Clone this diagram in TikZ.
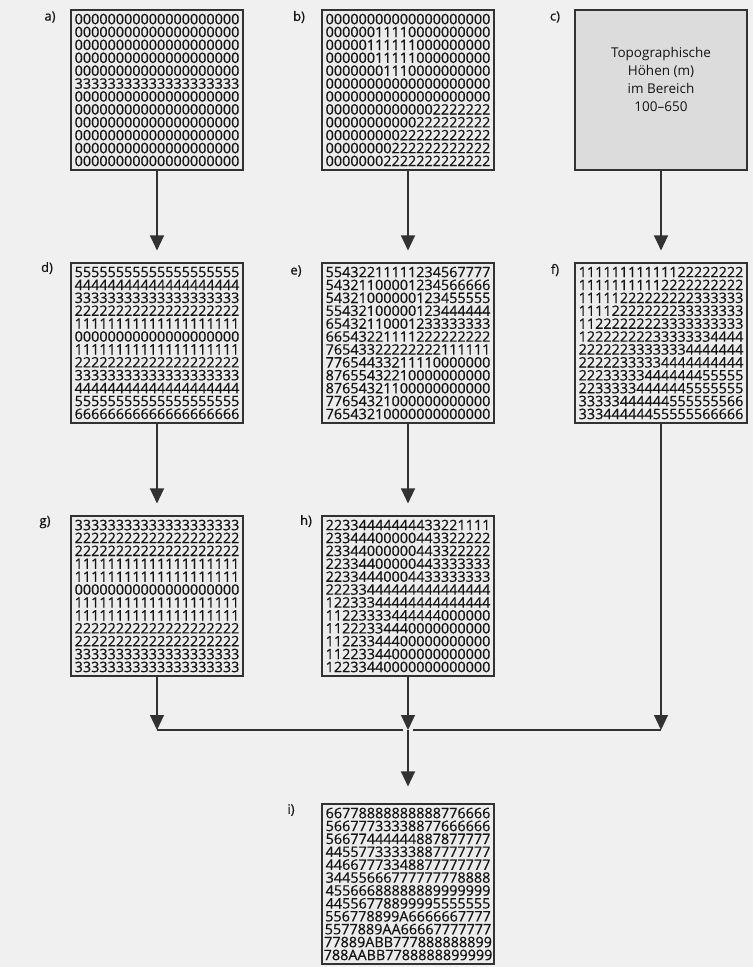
\documentclass[tikz,border=0pt]{standalone}
\usepackage{fontspec}
\setmainfont{Open Sans}
\newfontfamily\gridfont{Open Sans}[FakeBold=0.6]
\usetikzlibrary{arrows.meta,positioning}
\definecolor{PageGray}{RGB}{240,240,240}
\definecolor{BoxGray}{RGB}{236,236,236}
\definecolor{InputGray}{RGB}{220,220,220}
\definecolor{LineGray}{RGB}{50,50,50}
\definecolor{DigitInk}{RGB}{20,20,20}

\begin{document}
\begin{tikzpicture}[x=1pt, y=-1pt, >={Triangle[length=15pt,width=14pt]},
    grid/.style={draw=LineGray, line width=1.1pt, fill=BoxGray, minimum width=172pt,
        minimum height=160pt, inner sep=0pt, align=center, text=DigitInk,
        font=\gridfont\fontsize{14.4}{12.9}\selectfont},
    tag/.style={text=DigitInk, font=\gridfont\fontsize{13}{15}\selectfont},
    flow/.style={->, line width=1.1pt, draw=LineGray, fill=LineGray},
    link/.style={line width=1.1pt, draw=LineGray}]
\useasboundingbox (0,0) rectangle (753,967);
\fill[PageGray] (0,0) rectangle (753,967);

% first row: inputs
\node[grid] (a) at (157,90) {00000000000000000000\\00000000000000000000\\00000000000000000000\\
    00000000000000000000\\00000000000000000000\\33333333333333333333\\00000000000000000000\\
    00000000000000000000\\00000000000000000000\\00000000000000000000\\00000000000000000000\\
    00000000000000000000};
\node[grid] (b) at (408,90) {00000000000000000000\\00000011110000000000\\00000111111000000000\\
    00000011111000000000\\00000001110000000000\\00000000000000000000\\00000000000000000000\\
    00000000000002222222\\00000000000222222222\\00000000022222222222\\00000000222222222222\\
    00000002222222222222};
\node[grid, fill=InputGray, font=\fontsize{13.5}{18}\selectfont] (c) at (661,90)
    {Topographische\\Höhen (m)\\im Bereich\\100--650\\[4pt]};

% second row
\node[grid] (d) at (157,343) {55555555555555555555\\44444444444444444444\\33333333333333333333\\
    22222222222222222222\\11111111111111111111\\00000000000000000000\\11111111111111111111\\
    22222222222222222222\\33333333333333333333\\44444444444444444444\\55555555555555555555\\
    66666666666666666666};
\node[grid] (e) at (408,343) {55432211111234567777\\54321100001234566666\\54321000000123455555\\
    55432100000123444444\\65432110001233333333\\66543221111222222222\\76543322222222111111\\
    77654433211110000000\\87655432210000000000\\87654321100000000000\\77654321000000000000\\
    76543210000000000000};
\node[grid] (f) at (661,343) {11111111111122222222\\11111111112222222222\\11111222222222333333\\
    11112222222233333333\\11222222223333333333\\12222222233333334444\\22222233333334444444\\
    22222333334444444444\\22233333444444455555\\22333334444445555555\\33333444444555555566\\
    33344444455555566666};

% third row
\node[grid] (g) at (157,596) {33333333333333333333\\22222222222222222222\\22222222222222222222\\
    11111111111111111111\\11111111111111111111\\00000000000000000000\\11111111111111111111\\
    11111111111111111111\\22222222222222222222\\22222222222222222222\\33333333333333333333\\
    33333333333333333333};
\node[grid] (h) at (408,596) {22334444444433221111\\23344400000443322222\\23344000000443322222\\
    22334400000443333333\\22334440004433333333\\22233444444444444444\\12233344444444444444\\
    11223333444444000000\\11222334440000000000\\11223344400000000000\\11223344000000000000\\
    12233440000000000000};

% result
\node[grid] (i) at (408,884) {66778888888888776666\\56677733338877666666\\56677444444887877777\\
    44557733333887777777\\44667773348877777777\\34455666777777778888\\45566688888889999999\\
    44556778899995555555\\556778899A6666667777\\5577889AA66667777777\\77889ABB777888888899\\
    788AABB7788888899999};

% labels
\node[tag] (ta) at (50,17) {a)};
\node[tag] (tb) at (299,17) {b)};
\node[tag] (tc) at (555,17) {c)};
\node[tag] (td) at (47,268) {d)};
\node[tag] (te) at (296,271) {e)};
\node[tag] (tf) at (555,270) {f)};
\node[tag] (tg) at (45,522) {g)};
\node[tag] (th) at (306,521) {h)};
\node[tag] (ti) at (291,810) {i)};

% connectors
\draw[flow, shorten >=12pt] (a) -- (d);
\draw[flow, shorten >=12pt] (b) -- (e);
\draw[flow, shorten >=12pt] (c) -- (f);
\draw[flow, shorten >=12pt] (d) -- (g);
\draw[flow, shorten >=12pt] (e) -- (h);

\coordinate (jl) at (157,730);
\coordinate (jm) at (408,730);
\coordinate (jr) at (661,730);
\draw[flow] (g) -- (jl);
\draw[flow] (h) -- (jm);
\draw[flow] (f) -- (jr);
\draw[link] (jl) -- ([xshift=-5pt]jm);
\draw[link] ([xshift=5pt]jm) -- (jr);
\draw[flow, shorten >=17pt] (jm) -- (i);
\end{tikzpicture}
\end{document}
